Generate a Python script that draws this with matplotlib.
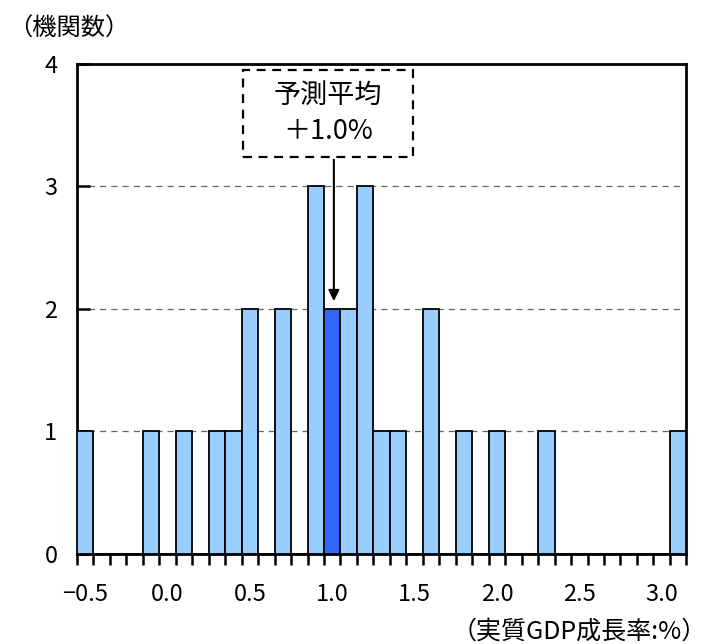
import matplotlib
matplotlib.use("Agg")
import matplotlib.pyplot as plt
from matplotlib.patches import Rectangle
import numpy as np

plt.rcParams['font.family'] = ['Noto Sans CJK JP', 'DejaVu Sans']

# growth-rate bins (0.1pt steps) and number of forecasters in each
bins = [round(-0.5 + 0.1 * i, 1) for i in range(37)]
counts = [1, 0, 0, 0, 1, 0, 1, 0, 1, 1, 2, 0, 2, 0, 3, 2, 2, 3, 1, 1,
          0, 2, 0, 1, 0, 1, 0, 0, 1, 0, 0, 0, 0, 0, 0, 0, 1]
mean_forecast = 1.0
tick_values = [-0.5, 0.0, 0.5, 1.0, 1.5, 2.0, 2.5, 3.0]
tick_labels = ['\u22120.5', '0.0', '0.5', '1.0', '1.5', '2.0', '2.5', '3.0']

light = '#99CCFF'
dark = '#3366FF'

fig = plt.figure(figsize=(7.12, 6.44), dpi=100)
ax = fig.add_axes([0.108, 0.140, 0.856, 0.761])

idx = np.arange(len(bins))
mean_idx = bins.index(mean_forecast)
colors = [dark if i == mean_idx else light for i in idx]
ax.bar(idx, counts, width=1.0, color=colors, edgecolor='black',
       linewidth=1.3, zorder=3)

for y in [1, 2, 3]:
    ax.axhline(y, color='#666666', lw=0.9, ls=(0, (5, 4)), zorder=1)

ax.set_xlim(-0.5, len(bins) - 0.5)
ax.set_ylim(0, 4)

# tick marks sit on the bin edges, labels on the bin centres
ax.set_xticks(np.arange(len(bins) + 1) - 0.5)
ax.set_xticklabels([])
ax.tick_params(axis='x', which='major', direction='out', length=8, width=1.8)
ax.set_xticks([bins.index(v) for v in tick_values], tick_labels, minor=True)
ax.tick_params(axis='x', which='minor', length=0, pad=21, labelsize=17)

ax.set_yticks([0, 1, 2, 3, 4])
ax.tick_params(axis='y', direction='in', length=9, width=1.8, pad=14,
               labelsize=17)

for s in ax.spines.values():
    s.set_linewidth(2.0)

# dashed callout for the mean forecast
box = Rectangle((9.58, 3.24), 10.33, 0.71, facecolor='white',
                edgecolor='black', lw=1.6, ls=(0, (4, 3)), zorder=5)
ax.add_patch(box)
ax.text(14.75, 3.74, '予測平均', ha='center', va='center', fontsize=19.5,
        zorder=6)
ax.text(14.75, 3.45, '＋%.1f%%' % mean_forecast, ha='center', va='center',
        fontsize=19.5, zorder=6)
ax.annotate('', xy=(mean_idx + 0.1, counts[mean_idx] + 0.04),
            xytext=(mean_idx + 0.1, 3.24),
            arrowprops=dict(arrowstyle='-|>', color='black', lw=1.5,
                            mutation_scale=16), zorder=6)

fig.text(0.012, 0.956, '（機関数）', fontsize=17.5, ha='left', va='center')
fig.text(0.993, 0.019, '（実質GDP成長率:%）', fontsize=18, ha='right',
         va='center')

fig.savefig('out.png', dpi=100)
